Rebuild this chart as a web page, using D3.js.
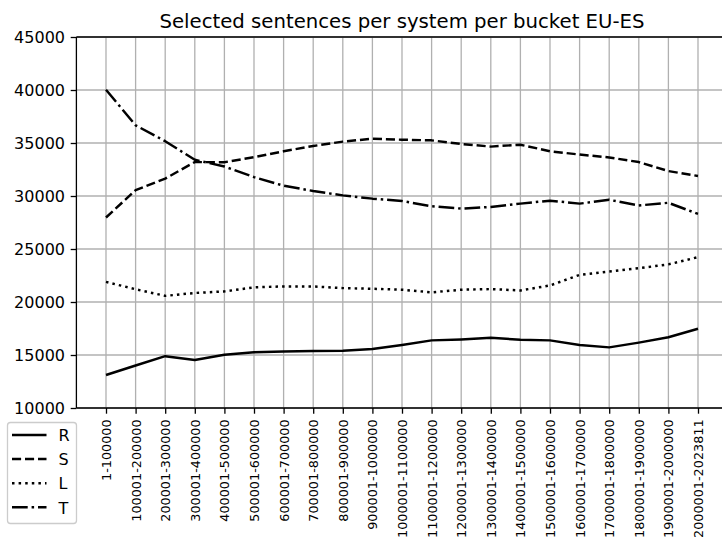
<!DOCTYPE html>
<html>
<head>
<meta charset="utf-8">
<script src="https://cdn.jsdelivr.net/npm/d3@7"></script>
<style>
  html, body { margin: 0; padding: 0; background: #fff; }
  svg { display: block; font-family: "DejaVu Sans", sans-serif; }
</style>
</head>
<body>
<svg id="chart" width="722" height="540"></svg>
<script>
// Sentence buckets (x axis categories)
const buckets = [
  "1-100000", "100001-200000", "200001-300000", "300001-400000", "400001-500000",
  "500001-600000", "600001-700000", "700001-800000", "800001-900000", "900001-1000000",
  "1000001-1100000", "1100001-1200000", "1200001-1300000", "1300001-1400000",
  "1400001-1500000", "1500001-1600000", "1600001-1700000", "1700001-1800000",
  "1800001-1900000", "1900001-2000000", "2000001-2023811"
];

// Selected sentences per system
const valuesR = [13110, 14010, 14890, 14530, 15030, 15250, 15340, 15380, 15410, 15560,
                 15940, 16380, 16470, 16620, 16440, 16380, 15940, 15720, 16170, 16670, 17480];
const valuesS = [27970, 30550, 31640, 33200, 33190, 33660, 34220, 34720, 35130, 35400,
                 35310, 35250, 34910, 34660, 34840, 34220, 33910, 33640, 33200, 32350, 31890];
const valuesL = [21900, 21200, 20580, 20850, 21000, 21380, 21470, 21470, 21310, 21250,
                 21160, 20910, 21160, 21220, 21090, 21560, 22560, 22870, 23190, 23550, 24230];
const valuesT = [40030, 36670, 35170, 33420, 32780, 31780, 30970, 30470, 30060, 29750,
                 29530, 29030, 28810, 28970, 29280, 29560, 29280, 29640, 29110, 29360, 28310];

const yTicks = [10000, 15000, 20000, 25000, 30000, 35000, 40000, 45000];
const chartTitle = "Selected sentences per system per bucket EU-ES";

const seriesNames = ["R", "S", "L", "T"];
const seriesValues = [valuesR, valuesS, valuesL, valuesT];
const seriesDash = [null, "9.1,3.9", "2.5,4.1", "15.7,3.9,2.5,3.9"];

const svg = d3.select("#chart");
const plotLeft = 76.4, plotRight = 727.6, plotTop = 37, plotBottom = 408;

const x = d3.scalePoint().domain(buckets).range([plotLeft, plotRight]).padding(1);
const y = d3.scaleLinear().domain([10000, 45000]).range([plotBottom, plotTop]);

// grid
const grid = svg.append("g").attr("stroke", "#b0b0b0").attr("stroke-width", 1.3);
grid.selectAll("line.v").data(buckets).join("line").attr("class", "v")
  .attr("x1", d => x(d)).attr("x2", d => x(d))
  .attr("y1", plotTop).attr("y2", plotBottom);
grid.selectAll("line.h").data(yTicks).join("line").attr("class", "h")
  .attr("x1", plotLeft).attr("x2", plotRight)
  .attr("y1", d => y(d)).attr("y2", d => y(d));

// series lines
const line = d3.line().x((d, i) => x(buckets[i])).y(d => y(d));
seriesValues.forEach((vals, k) => {
  svg.append("path")
    .datum(vals)
    .attr("d", line)
    .attr("fill", "none")
    .attr("stroke", "#000")
    .attr("stroke-width", 2.46)
    .attr("stroke-linejoin", "round")
    .attr("stroke-dasharray", seriesDash[k]);
});

// axes
const yAxis = d3.axisLeft(y).tickValues(yTicks).tickSize(5.7).tickPadding(5.7).tickFormat(d3.format("d"));
const gy = svg.append("g").attr("transform", `translate(${plotLeft},0)`).call(yAxis);
gy.select(".domain").attr("stroke-width", 1.3).attr("d", `M0,${plotTop}V${plotBottom}`);
gy.selectAll(".tick line").attr("stroke-width", 1.3);
gy.selectAll(".tick text").attr("font-size", "16px").attr("font-family", "DejaVu Sans").attr("fill", "#000");

const xAxis = d3.axisBottom(x).tickSize(5.7).tickPadding(5.7);
const gx = svg.append("g").attr("transform", `translate(0,${plotBottom})`).call(xAxis);
gx.select(".domain").attr("stroke-width", 1.3).attr("d", `M${plotLeft},0H${plotRight}`);
gx.selectAll(".tick line").attr("stroke-width", 1.3);
gx.selectAll(".tick text")
  .attr("font-size", "12.8px").attr("font-family", "DejaVu Sans").attr("fill", "#000")
  .attr("transform", "rotate(-90)")
  .attr("text-anchor", "end")
  .attr("x", -11.4).attr("y", 0).attr("dy", "0.35em");

// top spine
svg.append("line").attr("x1", plotLeft).attr("x2", plotRight).attr("y1", plotTop).attr("y2", plotTop)
  .attr("stroke", "#000").attr("stroke-width", 1.3);

// title
svg.append("text")
  .attr("x", (plotLeft + plotRight) / 2).attr("y", 27.5)
  .attr("text-anchor", "middle")
  .attr("font-size", "19.7px")
  .attr("fill", "#000")
  .text(chartTitle);

// legend
const lg = svg.append("g");
lg.append("rect")
  .attr("x", 7.5).attr("y", 422.5).attr("width", 69).attr("height", 101)
  .attr("rx", 3).attr("fill", "#fff").attr("fill-opacity", 0.8)
  .attr("stroke", "#cccccc").attr("stroke-width", 1.3);
seriesNames.forEach((name, k) => {
  const cy = 435 + k * 24.1;
  lg.append("line")
    .attr("x1", 12).attr("x2", 46.5).attr("y1", cy).attr("y2", cy)
    .attr("stroke", "#000").attr("stroke-width", 2.46)
    .attr("stroke-dasharray", seriesDash[k]);
  lg.append("text")
    .attr("x", 58.5).attr("y", cy + 6.2)
    .attr("font-size", "16px").attr("fill", "#000")
    .text(name);
});
</script>
</body>
</html>
